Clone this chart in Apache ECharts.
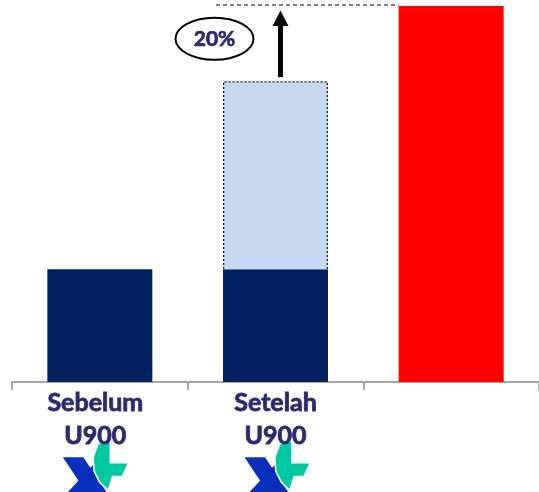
<!DOCTYPE html>
<html>
<head>
<meta charset="utf-8">
<script src="https://cdn.jsdelivr.net/npm/echarts@6/dist/echarts.min.js"></script>
<style>html,body{margin:0;padding:0;background:#fff;}#c{width:539px;height:492px;}</style>
</head>
<body>
<div id="c"></div>
<script>
const categories = ['Sebelum\nU900', 'Setelah\nU900', ''];
const baseValues = [30, 30, null];
const addedValues = [null, 50, null];
const targetValues = [null, null, 100];
const outlineValues = [null, 80, null];
const growthLabel = '20%';

const chart = echarts.init(document.getElementById('c'), null, {renderer: 'canvas'});
const textColor = '#2b2a70';
const catData = categories.map((c, i) => i === 0 ? {value: c, textStyle: {padding: [0, 9, 0, 0]}} : c);
chart.setOption({
  animation: false,
  grid: {left: 12, width: 532, top: 6, bottom: 110, containLabel: false},
  xAxis: {
    type: 'category', data: catData,
    axisLine: {lineStyle: {color: '#a6a6a6', width: 2}},
    axisTick: {show: true, length: 8, lineStyle: {color: '#a6a6a6', width: 2}},
    axisLabel: {fontFamily: 'Lato', fontWeight: 'bold', fontSize: 25, color: textColor, lineHeight: 33, margin: 4, interval: 0,
      textBorderColor: textColor, textBorderWidth: 0.8}
  },
  yAxis: {type: 'value', min: 0, max: 100, show: false, splitLine: {show: false}},
  series: [
    {type: 'bar', stack: 'a', data: baseValues, barWidth: 105, itemStyle: {color: '#002060'}},
    {type: 'bar', stack: 'a', data: addedValues, barWidth: 105, itemStyle: {color: '#c6d9f1'}},
    {type: 'bar', stack: 'a', data: targetValues, barWidth: 105, itemStyle: {color: '#ff0000'}},
    {type: 'bar', data: outlineValues, barWidth: 105, barGap: '-100%', z: 5,
     itemStyle: {color: 'rgba(0,0,0,0)', borderColor: '#222', borderWidth: 1.3, borderType: [2, 2]}}
  ]
});

function px(i, v) { return chart.convertToPixel({gridIndex: 0}, [i, v]); }
const c1 = px(0, 0), c2 = px(1, outlineValues[1]), c3 = px(2, targetValues[2]);
const half = 52.5;
const redTop = c3[1], bar2Top = c2[1];

function logo(ox, oy) {
  return {
    type: 'group', x: ox, y: oy, scaleX: 1.08, scaleY: 1.08,
    children: [
      {type: 'polygon', shape: {points: [[0,15],[19,15],[41,48],[22,48]]}, style: {fill: '#0b2fbd'}},
      {type: 'polygon', shape: {points: [[4,48],[21,48],[37,26],[29,21]]}, style: {fill: '#0b2fbd'}},
      {type: 'polygon', shape: {points: [[33,2],[44,0],[44,20],[61,20],[55,33],[46,33],[42,46],[34,38],[29,28],[28,15]]},
       style: {fill: '#00c8a0', stroke: '#fff', lineWidth: 1.5}}
    ]
  };
}

chart.setOption({
  graphic: [
    {type: 'line', shape: {x1: c2[0] - half - 7, y1: redTop - 1, x2: c3[0] - half, y2: redTop - 1},
     style: {stroke: '#000', lineWidth: 1, lineDash: [4, 3]}},
    {type: 'rect', shape: {x: c2[0] + 5 - 2.5, y: redTop + 18, width: 5, height: bar2Top - 4 - (redTop + 18)}, style: {fill: '#000'}},
    {type: 'polygon', shape: {points: [[c2[0] + 5, redTop + 4.5], [c2[0] + 5 - 8, redTop + 20], [c2[0] + 5 + 8, redTop + 20]]}, style: {fill: '#000'}},
    {type: 'ellipse', shape: {cx: c2[0] - 61, cy: 38.7, rx: 39, ry: 21}, style: {fill: '#fff', stroke: '#000', lineWidth: 2}},
    {type: 'text', x: c2[0] - 61, y: 39, style: {text: growthLabel, fontFamily: 'Lato', fontWeight: 'bold', fontSize: 21, fill: textColor, align: 'center', verticalAlign: 'middle',
      stroke: textColor, lineWidth: 0.7}},
    logo(c1[0] - 37, 441),
    logo(c2[0] - 31, 441),
    {type: 'line', shape: {x1: 528, y1: c1[1], x2: 539, y2: c1[1]}, style: {stroke: '#a6a6a6', lineWidth: 2}}
  ]
});
</script>
</body>
</html>
